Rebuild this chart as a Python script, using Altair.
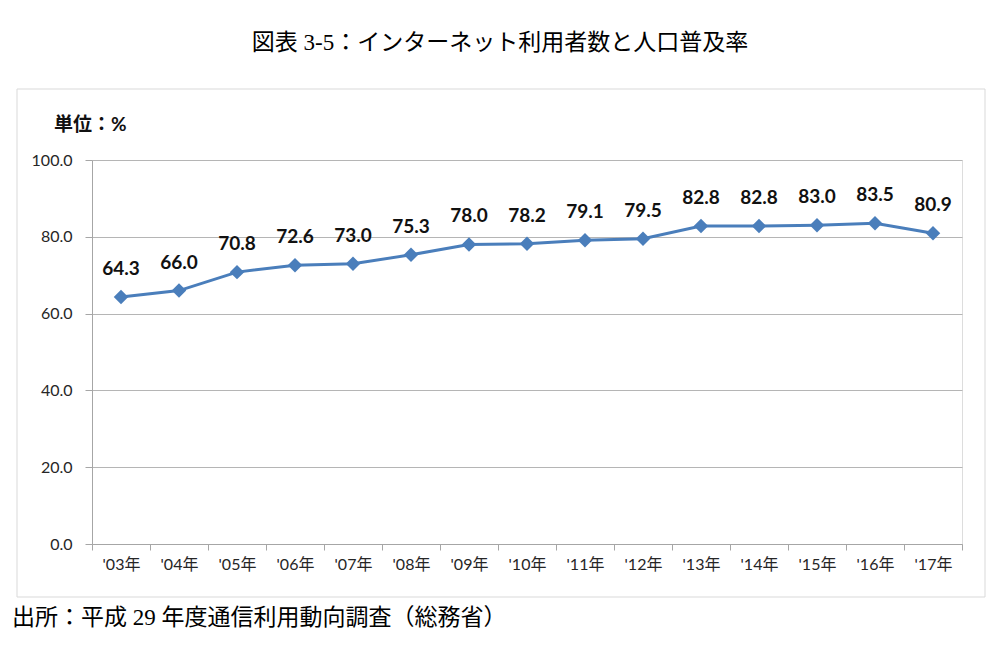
import altair as alt
import pandas as pd

years = ["'03年", "'04年", "'05年", "'06年", "'07年", "'08年", "'09年", "'10年",
         "'11年", "'12年", "'13年", "'14年", "'15年", "'16年", "'17年"]
rates = [64.3, 66.0, 70.8, 72.6, 73.0, 75.3, 78.0, 78.2, 79.1, 79.5, 82.8, 82.8, 83.0, 83.5, 80.9]

title_text = "図表 3-5：インターネット利用者数と人口普及率"
unit_text = "単位：%"
source_text = "出所：平成 29 年度通信利用動向調査（総務省）"

df = pd.DataFrame({"year": years, "rate": rates, "label": [f"{v:.1f}" for v in rates]})

W, H = 870, 384
sans = "Lato, Noto Sans CJK JP"
serif = "Liberation Serif, Noto Sans CJK JP"

x_enc = alt.X("year:N", sort=years, title=None,
              scale=alt.Scale(paddingInner=0, paddingOuter=0),
              axis=alt.Axis(labelAngle=0, bandPosition=0, ticks=True, tickSize=6,
                            tickColor="#a6a6a6", domainColor="#a6a6a6", labelPadding=6,
                            labelFontSize=16, labelColor="#262626", labelFont=sans,
                            grid=False, tickBand="extent"))
y_enc = alt.Y("rate:Q", title=None,
              scale=alt.Scale(domain=[0, 100], nice=False),
              axis=alt.Axis(values=[0, 20, 40, 60, 80, 100], format=".1f",
                            tickSize=7, tickColor="#a6a6a6", domainColor="#a6a6a6",
                            gridColor="#b5b5b5", labelFontSize=16, labelColor="#262626",
                            labelFont=sans, labelPadding=13))

base = alt.Chart(df)

line = base.mark_line(color="#4a7ebb", strokeWidth=3).encode(x=x_enc, y=y_enc)
pts = base.mark_point(shape="diamond", filled=True, size=210, color="#4a7ebb", opacity=1).encode(x=x_enc, y=y_enc)
labels = base.mark_text(dy=-28, fontSize=19, fontWeight="bold", font=sans, color="#111111").encode(
    x=x_enc, y=y_enc, text="label:N")

ann = pd.DataFrame({"t": [title_text]})
title = alt.Chart(ann).mark_text(fontSize=23, font=serif, color="#000000", align="center", baseline="middle").encode(
    x=alt.value(408), y=alt.value(-117), text=alt.value(title_text))
unit = alt.Chart(ann).mark_text(fontSize=19, fontWeight="bold", font=sans, color="#111111", align="left", baseline="middle").encode(
    x=alt.value(-38), y=alt.value(-35), text=alt.value(unit_text))
source = alt.Chart(ann).mark_text(fontSize=23, font=serif, color="#000000", align="left", baseline="middle").encode(
    x=alt.value(-80), y=alt.value(458), text=alt.value(source_text))
frame = alt.Chart(ann).mark_rect(fill=None, stroke="#d9d9d9", strokeWidth=1).encode(
    x=alt.value(-75), x2=alt.value(893), y=alt.value(-71), y2=alt.value(437))

chart = alt.layer(frame, line, pts, labels, title, unit, source).properties(
    width=W, height=H,
    autosize=alt.AutoSizeParams(type="none"),
    padding={"left": 84, "top": 152, "right": 30, "bottom": 90},
).configure_view(stroke=None).configure(background="white")

chart.save("out.html", embed_options={"renderer": "svg", "actions": False})
